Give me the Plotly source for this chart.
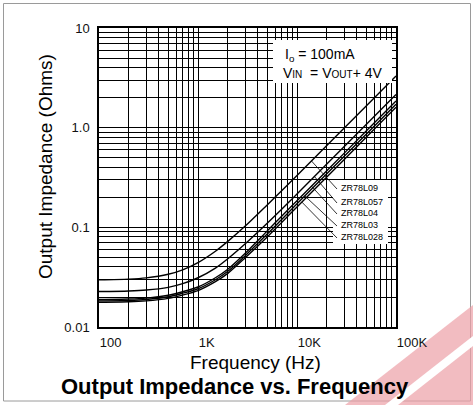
import numpy as np
import plotly.graph_objects as go

# ---------------- data ----------------
freq_hz = [100, 200, 300, 500, 700, 1000, 1500, 2000, 3000, 5000, 7000, 10000, 20000, 50000, 100000]

z_zr78l09 = [0.0297, 0.0302, 0.0311, 0.0338, 0.0375, 0.0443, 0.0576, 0.0723, 0.103, 0.168, 0.233, 0.331, 0.661, 1.65, 3.30]
z_zr78l057 = [0.0227, 0.0230, 0.0235, 0.0250, 0.0272, 0.0312, 0.0390, 0.0484, 0.0684, 0.110, 0.152, 0.216, 0.431, 1.075, 2.15]
z_zr78l04 = [0.0189, 0.0191, 0.0195, 0.0208, 0.0226, 0.0252, 0.0312, 0.0380, 0.0550, 0.092, 0.129, 0.185, 0.370, 0.925, 1.85]
z_zr78l03 = [0.0183, 0.0185, 0.0189, 0.0201, 0.0218, 0.0242, 0.0298, 0.0362, 0.0520, 0.0855, 0.120, 0.172, 0.344, 0.86, 1.72]
z_zr78l028 = [0.0177, 0.0179, 0.0183, 0.0194, 0.0209, 0.0232, 0.0285, 0.0345, 0.0495, 0.080, 0.112, 0.160, 0.320, 0.80, 1.60]

series_names = ["ZR78L09", "ZR78L057", "ZR78L04", "ZR78L03", "ZR78L028"]
series_values = [z_zr78l09, z_zr78l057, z_zr78l04, z_zr78l03, z_zr78l028]
leader_freq = [14000, 15000, 14000, 12000, 11200]   # where each leader touches its curve
label_y_px = [188, 202, 213, 225, 237]

x_tickvals = [100, 1000, 10000, 100000]
x_ticktext = ["100", "1K", "10K", "100K"]
y_tickvals = [0.01, 0.1, 1, 10]
y_ticktext = ["0.01", "0.1", "1.0", "10"]

# ---------------- layout geometry ----------------
W, H = 473, 405
L, R, T, B = 99, 77, 28, 78
PW, PH = W - L - R, H - T - B
FONT = "Liberation Sans, Arial, Helvetica, sans-serif"


def px(xp):
    return (xp - L) / PW


def py(yp):
    return (H - B - yp) / PH


def dx(xp):  # pixel -> data value on log x
    return 10 ** (2 + (xp - L) / PW * 3)


def dy(yp):  # pixel -> data value on log y
    return 10 ** (-2 + (H - B - yp) / PH * 3)


fig = go.Figure()
for name, vals in zip(series_names, series_values):
    fig.add_trace(go.Scatter(x=freq_hz, y=vals, mode="lines", name=name,
                             line=dict(color="black", width=1.4, shape="spline", smoothing=0.8),
                             showlegend=False, hoverinfo="skip"))

grid = dict(showgrid=True, gridcolor="black", gridwidth=1)
fig.update_xaxes(type="log", range=[2, 5], tickvals=x_tickvals, ticktext=x_ticktext,
                 ticks="", ticklabelposition="outside right", ticklabelstandoff=3,
                 tickfont=dict(family=FONT, size=13, color="#111"),
                 showline=True, linecolor="black", linewidth=1.5, mirror=True,
                 minor=dict(dtick="D1", showgrid=True, gridcolor="black", gridwidth=1, ticks=""),
                 zeroline=False, **grid)
fig.update_yaxes(type="log", range=[-2, 1], tickvals=y_tickvals, ticktext=y_ticktext,
                 ticks="", ticklabelstandoff=5,
                 tickfont=dict(family=FONT, size=13, color="#111"),
                 showline=True, linecolor="black", linewidth=1.5, mirror=True,
                 minor=dict(dtick="D1", showgrid=True, gridcolor="black", gridwidth=1, ticks=""),
                 zeroline=False, **grid)

shapes = [
    # outer frame
    dict(type="rect", xref="paper", yref="paper", x0=px(3.5), x1=px(470.5), y0=py(401), y1=py(3.5),
         line=dict(color="#9a9a9a", width=1), layer="below"),
    # watermark
    dict(type="path", xref="paper", yref="paper",
         path="M {},{} L {},{} L {},{} L {},{} Z".format(px(345), py(405), px(473), py(305),
                                                         px(473), py(405), px(345), py(405)),
         fillcolor="rgba(236,160,166,0.7)", line=dict(width=0), layer="below"),
    dict(type="path", xref="paper", yref="paper",
         path="M {},{} L {},{} L {},{} L {},{} Z".format(px(385), py(405), px(473), py(336),
                                                         px(473), py(346), px(398), py(405)),
         fillcolor="white", line=dict(width=0), layer="below"),
    # condition box (white, hides grid)
    dict(type="rect", xref="paper", yref="paper", x0=px(273), x1=px(392), y0=py(83), y1=py(40),
         fillcolor="white", line=dict(width=0), layer="above"),
    # label box
    dict(type="rect", xref="paper", yref="paper", x0=px(333), x1=px(388), y0=py(244), y1=py(180),
         fillcolor="white", line=dict(width=0), layer="above"),
]

logf = np.log10(freq_hz)
for vals, lf, ly in zip(series_values, leader_freq, label_y_px):
    target = 10 ** np.interp(np.log10(lf), logf, np.log10(vals))
    shapes.append(dict(type="line", xref="x", yref="y", x0=dx(337), y0=dy(ly + 1), x1=lf, y1=target,
                       line=dict(color="black", width=0.8), layer="above"))

annotations = [
    dict(text="I<sub>o</sub> = 100mA", xref="paper", yref="paper", x=px(283), y=py(55),
         xanchor="left", yanchor="middle", showarrow=False, font=dict(family=FONT, size=14, color="black")),
    dict(text="V<span style='font-size:10px'>IN</span>  = V<span style='font-size:10px'>OUT</span>+ 4V",
         xref="paper", yref="paper", x=px(281), y=py(73), xanchor="left", yanchor="middle",
         showarrow=False, font=dict(family=FONT, size=14, color="black")),
    dict(text="Frequency (Hz)", xref="paper", yref="paper", x=px(255), y=py(362),
         xanchor="center", yanchor="middle", showarrow=False, font=dict(family=FONT, size=19, color="black")),
    dict(text="Output Impedance (Ohms)", xref="paper", yref="paper", x=px(45), y=py(167), textangle=-90,
         xanchor="center", yanchor="middle", showarrow=False, font=dict(family=FONT, size=19, color="black")),
    dict(text="<b>Output Impedance vs. Frequency</b>", xref="paper", yref="paper", x=px(235), y=py(386),
         xanchor="center", yanchor="middle", showarrow=False, font=dict(family=FONT, size=22, color="black")),
]

for name, ly in zip(series_names, label_y_px):
    annotations.append(dict(text=name, xref="paper", yref="paper", x=px(339), y=py(ly),
                            xanchor="left", yanchor="middle", showarrow=False,
                            font=dict(family=FONT, size=9, color="black")))

fig.update_layout(width=W, height=H, margin=dict(l=L, r=R, t=T, b=B, autoexpand=False),
                  paper_bgcolor="white", plot_bgcolor="white",
                  shapes=shapes, annotations=annotations, showlegend=False)

fig.write_html("out.html")
